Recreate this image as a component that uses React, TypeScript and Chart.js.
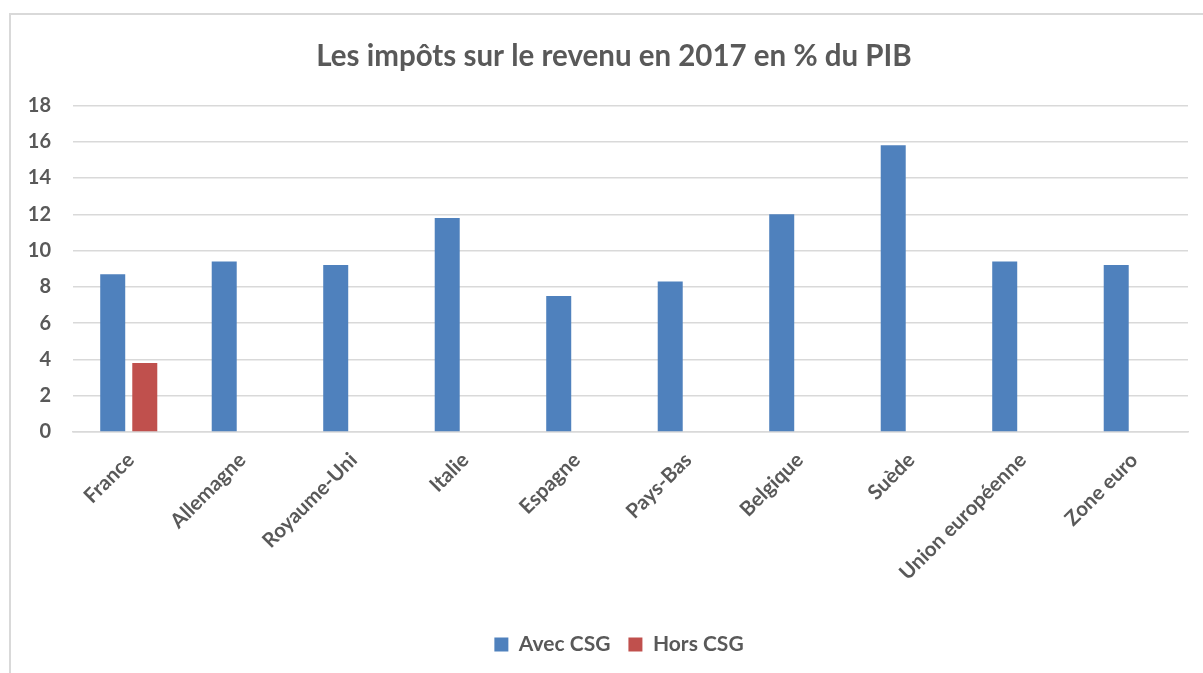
import React, { useEffect, useRef } from "react";
import { Chart, registerables } from "chart.js";

Chart.register(...registerables);

const categories = [
  "France",
  "Allemagne",
  "Royaume-Uni",
  "Italie",
  "Espagne",
  "Pays-Bas",
  "Belgique",
  "Suède",
  "Union européenne",
  "Zone euro",
];
const avecCSG = [8.7, 9.4, 9.2, 11.8, 7.5, 8.3, 12.0, 15.8, 9.4, 9.2];
const horsCSG = [3.8, null, null, null, null, null, null, null, null, null];
const titleText = "Les impôts sur le revenu en 2017 en % du PIB";
const seriesNames = ["Avec CSG", "Hors CSG"];

const FONT = "Lato, 'Open Sans', sans-serif";
const TEXT = "#595959";
const GRID = "#d9d9d9";

const boxShift = {
  id: "boxShift",
  afterLayout(chart: any) {
    const l = chart.legend;
    if (l) {
      l.left += 25;
      l.right += 25;
    }
    const t = chart.titleBlock;
    if (t) {
      t.left += 20;
      t.right += 20;
    }
  },
};

export default function App() {
  const ref = useRef<HTMLCanvasElement>(null);

  useEffect(() => {
    if (!ref.current) return;
    const chart = new Chart(ref.current, {
      type: "bar",
      data: {
        labels: categories,
        datasets: [
          {
            label: seriesNames[0],
            data: avecCSG,
            backgroundColor: "#4f81bd",
            categoryPercentage: 0.575,
            barPercentage: 0.78,
          },
          {
            label: seriesNames[1],
            data: horsCSG,
            backgroundColor: "#c0504d",
            categoryPercentage: 0.575,
            barPercentage: 0.78,
          },
        ],
      },
      plugins: [boxShift],
      options: {
        animation: false,
        responsive: false,
        maintainAspectRatio: false,
        layout: { padding: { left: 0, right: 15, top: 0, bottom: 8 } },
        plugins: {
          title: {
            display: true,
            text: titleText,
            color: TEXT,
            font: { family: FONT, size: 29.5, weight: "bold" },
            padding: { top: 39, bottom: 31 },
          },
          legend: {
            position: "bottom",
            labels: {
              color: TEXT,
              font: { family: FONT, size: 21, weight: "bold" },
              boxWidth: 14,
              boxHeight: 14,
              padding: 18,
            },
          },
          tooltip: { enabled: false },
        },
        scales: {
          x: {
            grid: { display: false },
            border: { display: true, color: GRID, width: 1.5 },
            afterFit: (scale: any) => {
              scale.height = 184;
            },
            ticks: {
              color: TEXT,
              font: { family: FONT, size: 20.5, weight: "bold" },
              minRotation: 45,
              maxRotation: 45,
              padding: 8,
              labelOffset: 2,
              autoSkip: false,
            },
          },
          y: {
            min: 0,
            max: 18,
            afterFit: (scale: any) => {
              scale.width = 73;
            },
            ticks: {
              stepSize: 2,
              color: TEXT,
              font: { family: FONT, size: 20, weight: "bold" },
              padding: 22,
            },
            grid: { color: GRID, lineWidth: 1.5, drawTicks: false },
            border: { display: false },
          },
        },
      },
    });
    return () => chart.destroy();
  }, []);

  return (
    <div style={{ position: "fixed", left: 0, top: 0, width: 1203, height: 673, background: "#fff" }}>
      <div
        style={{
          position: "absolute",
          left: 9,
          top: 13,
          width: 1203 - 9,
          height: 673 - 13,
          borderTop: "2px solid #d9d9d9",
          borderLeft: "2px solid #d9d9d9",
          boxSizing: "border-box",
        }}
      />
      <canvas ref={ref} width={1203} height={673} style={{ position: "absolute", left: 0, top: 0 }} />
    </div>
  );
}
